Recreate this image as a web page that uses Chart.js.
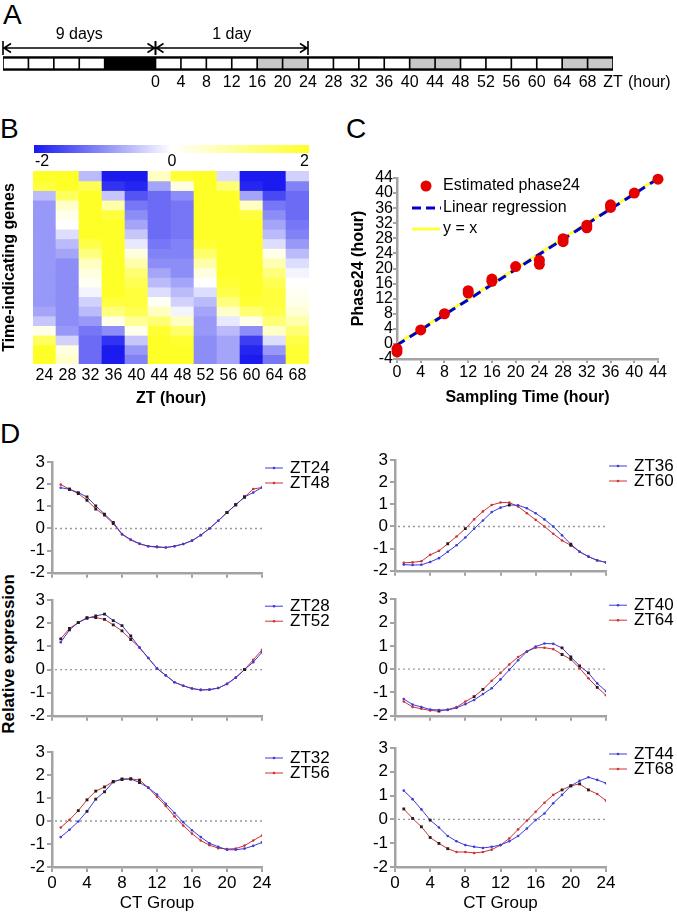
<!DOCTYPE html>
<html><head><meta charset="utf-8">
<script src="https://cdn.jsdelivr.net/npm/chart.js@4.4.1/dist/chart.umd.min.js"></script>
<style>
html,body{margin:0;padding:0;background:#fff}
body{width:677px;height:915px;position:relative;overflow:hidden;font-family:'Liberation Sans',Arial,Helvetica,sans-serif;color:#000}
canvas{position:absolute}
.lab{position:absolute;font-size:28px;line-height:28px;white-space:nowrap}
.rot{position:absolute;font-size:17px;font-weight:bold;line-height:20px;white-space:nowrap;transform:translate(-50%,-50%) rotate(-90deg)}
</style></head><body>
<div class="lab" style="left:3px;top:1px">A</div>
<div class="lab" style="left:0px;top:115px">B</div>
<div class="lab" style="left:346px;top:115px">C</div>
<div class="lab" style="left:0px;top:420px">D</div>
<div class="rot" style="left:9px;top:654px">Relative expression</div>
<canvas id="cA" width="677" height="100" style="left:0;top:0"></canvas>
<canvas id="cB" width="330" height="315" style="left:0;top:95px"></canvas>
<canvas id="cC" width="347" height="315" style="left:330px;top:95px"></canvas>
<canvas id="d1" width="340" height="145" style="left:0;top:440px"></canvas>
<canvas id="d2" width="340" height="140" style="left:0;top:588px"></canvas>
<canvas id="d3" width="340" height="180" style="left:0;top:735px"></canvas>
<canvas id="d4" width="337" height="143" style="left:340px;top:440px"></canvas>
<canvas id="d5" width="337" height="141" style="left:340px;top:587px"></canvas>
<canvas id="d6" width="337" height="180" style="left:340px;top:735px"></canvas>
<script>
// ---------- Panel A: light schedule ----------
const scheduleStart = [-24,-20,-16,-12,-8, 0,4,8,12,16,20,24,28,32,36,40,44,48,52,56,60,64,68];
const scheduleEnd   = [-20,-16,-12,-8,0, 4,8,12,16,20,24,28,32,36,40,44,48,52,56,60,64,68,72];
const scheduleState = ['L','L','L','L','D','L','L','L','L','G','G','L','L','L','L','G','G','L','L','L','L','G','G'];
const scheduleTicks = [0,4,8,12,16,20,24,28,32,36,40,44,48,52,56,60,64,68,72];
const arrowSpans = [[-24,0,'9 days'],[0,24,'1 day']];

// ---------- Panel B: heatmap (rows top -> bottom) ----------
const heatCols = ['24','28','32','36','40','44','48','52','56','60','64','68'];
const hZT24 = [2,1.8,-0.6,-0.9,-0.9,-0.9,-0.9,-0.9,-0.9,-0.9,-0.9,-0.9,-0.9,-0.9,-0.8,-0.5,0.2,1.5,2,2];
const hZT28 = [2,2,1.5,0.5,0.2,0,-0.3,-0.6,-0.8,-1,-1,-1,-1,-1,-1,-1,-0.9,-0.4,0.3,0.5];
const hZT32 = [-0.6,1.6,2,2,2,2,2,1.7,1.2,0.6,0.3,0.1,-0.1,-0.4,-0.6,-0.9,-1.2,-1.3,-1.3,-1.3];
const hZT36 = [-2,-1.8,-0.5,0.8,1.8,2,2,2,2,2,2,2,2,1.8,1.2,0.2,-1,-1.8,-2,-2];
const hZT40 = [-2,-1.9,-1.5,-1.2,-1,-0.8,-0.5,-0.2,0.3,0.8,1.3,1.6,1.8,1.8,1.6,1.0,0.2,-0.5,-0.9,-1.1];
const hZT44 = [0.6,-0.8,-1.3,-1.3,-1.3,-1.3,-1.3,-1.2,-1.1,-1.0,-0.8,-0.6,-0.3,0.1,0.6,1.3,1.9,2,2,2];
const hZT48 = [1.9,0.3,-1.0,-1.2,-1.2,-1.2,-1.2,-1.1,-1.1,-1.0,-1.0,-0.8,-0.6,-0.4,-0.1,0.6,1.4,1.9,2,2];
const hZT52 = [2,2,2,2,2,2,2,1.9,1.4,0.8,0.3,0,-0.3,-0.6,-0.8,-0.9,-0.9,-1.0,-1.0,-1.0];
const hZT56 = [-0.3,1.3,2,2,2,2,2,2,2,2,2,1.9,1.7,1.2,0.5,-0.2,-0.6,-0.8,-0.8,-0.8];
const hZT60 = [-2,-1.9,-0.8,0.6,1.8,2,2,2,2,2,2,2,2,1.9,1.3,0.2,-1.0,-1.7,-1.9,-2];
const hZT64 = [-2,-2,-1.6,-1.2,-1.0,-0.8,-0.6,-0.3,0.2,0.7,1.2,1.6,1.8,1.8,1.7,1.3,0.5,-0.3,-0.9,-1.2];
const hZT68 = [-0.4,-1.1,-1.3,-1.3,-1.3,-1.2,-1.1,-0.9,-0.6,-0.3,-0.1,0,0.1,0.2,0.4,0.8,1.3,1.7,1.9,1.9];
const heatValues = [hZT24,hZT28,hZT32,hZT36,hZT40,hZT44,hZT48,hZT52,hZT56,hZT60,hZT64,hZT68];
const colorbarTicks = [-2,0,2];

// ---------- Panel C ----------
const phaseX = [0,0,4,8,12,12,16,16,20,24,24,28,28,32,32,36,36,40,44];
const phaseY = [-1.3,-2.1,3.7,8,13.5,14.1,16.6,17.2,20.5,22.2,21.1,27.9,27.1,31.5,30.8,36.9,36.2,40,43.7];
const regX = [0,44];
const regY = [-0.3,43.8];
const identX = [0,44];
const identY = [0,44];

// ---------- Panel D ----------
const ctGroup = [1,2,3,4,5,6,7,8,9,10,11,12,13,14,15,16,17,18,19,20,21,22,23,24];
const zt24 = [1.84,1.77,1.62,1.42,1.02,0.65,0.27,-0.25,-0.5,-0.68,-0.8,-0.82,-0.86,-0.8,-0.7,-0.55,-0.3,0.0,0.35,0.72,1.07,1.42,1.62,1.85];
const zt48 = [1.98,1.77,1.58,1.27,0.88,0.6,0.22,-0.27,-0.52,-0.7,-0.8,-0.85,-0.86,-0.8,-0.7,-0.55,-0.3,0.0,0.35,0.72,1.07,1.42,1.78,1.85];
const zt28 = [1.18,1.72,2.03,2.22,2.32,2.4,2.12,1.9,1.45,0.95,0.5,0.05,-0.25,-0.55,-0.7,-0.82,-0.88,-0.87,-0.8,-0.62,-0.35,0.0,0.32,0.75];
const zt52 = [1.33,1.78,2.03,2.25,2.25,2.17,1.93,1.67,1.3,0.95,0.5,0.05,-0.25,-0.55,-0.7,-0.82,-0.88,-0.87,-0.8,-0.62,-0.35,0.0,0.42,0.85];
const zt32 = [-0.7,-0.38,-0.02,0.42,0.95,1.27,1.7,1.83,1.83,1.67,1.45,1.15,0.75,0.35,-0.05,-0.4,-0.7,-0.97,-1.12,-1.25,-1.25,-1.2,-1.08,-0.93];
const zt56 = [-0.28,0.05,0.45,0.92,1.3,1.48,1.72,1.8,1.83,1.78,1.45,1.05,0.65,0.2,-0.2,-0.55,-0.85,-1.05,-1.18,-1.22,-1.2,-1.07,-0.85,-0.63];
const zt36 = [-1.72,-1.74,-1.73,-1.6,-1.43,-1.14,-0.85,-0.5,-0.1,0.27,0.65,0.85,0.97,0.96,0.82,0.6,0.32,0.0,-0.4,-0.8,-1.14,-1.36,-1.53,-1.62];
const zt60 = [-1.64,-1.62,-1.57,-1.28,-1.1,-0.78,-0.45,-0.1,0.32,0.68,0.97,1.08,1.08,0.9,0.6,0.3,0.0,-0.33,-0.63,-0.85,-1.14,-1.36,-1.53,-1.62];
const zt40 = [-1.28,-1.52,-1.62,-1.73,-1.75,-1.75,-1.66,-1.5,-1.32,-1.07,-0.82,-0.44,-0.03,0.38,0.75,0.97,1.1,1.09,0.91,0.52,0.14,-0.16,-0.61,-0.94];
const zt64 = [-1.39,-1.62,-1.7,-1.77,-1.8,-1.73,-1.63,-1.39,-1.18,-0.87,-0.5,-0.16,0.2,0.52,0.76,0.92,0.92,0.86,0.63,0.42,0.04,-0.39,-0.78,-1.12];
const zt44 = [1.21,0.85,0.42,-0.03,-0.34,-0.7,-0.92,-1.08,-1.15,-1.2,-1.15,-1.08,-0.92,-0.7,-0.38,-0.03,0.25,0.68,1.03,1.41,1.62,1.77,1.66,1.52];
const zt68 = [0.44,0.04,-0.31,-0.76,-1.01,-1.23,-1.37,-1.37,-1.41,-1.37,-1.27,-1.08,-0.8,-0.42,-0.05,0.32,0.7,1.03,1.24,1.41,1.49,1.24,1.07,0.79];
// CT groups that carry visible (black) error bars
const errBlue24 = [2,3,4,5,6,7,20,21,22], errRed24 = [2,3,4,5,6,7,20,21,22];
const errBlue28 = [2,3,4,5,6,7,8,9,22], errRed28 = [1,2,3,4,5,6,7,8,9,22];
const errBlue32 = [4,5,6,7,8,9,10], errRed32 = [3,4,5,6,7,8,9,10];
const errBlue36 = [13,20], errRed36 = [6,8,20];
const errBlue40 = [19,20,21,22], errRed40 = [5,9,10,19,20,23];
const errBlue44 = [4,20], errRed44 = [1,2,3,4,5,6,19,20,21,22];

// ---------- setup ----------
const FONT = "'Liberation Sans', Arial, Helvetica, sans-serif";
Chart.defaults.font.family = FONT;
Chart.defaults.color = '#000';
Chart.defaults.animation = false;
Chart.defaults.responsive = false;
Chart.defaults.devicePixelRatio = 1;
Chart.defaults.plugins.legend.display = false;
Chart.defaults.plugins.tooltip.enabled = false;
const GRAY = '#a3a3a3';
const BLUE = '#3c3cd8';
const RED = '#cc3434';

// Panel A
const stateColor = {L:'#ffffff', G:'#c8c8c8', D:'#000000'};
const arrowPlugin = {id:'arrows', afterDraw(chart){
  const x = chart.scales.x, ctx = chart.ctx, y = 48;
  ctx.save();
  ctx.strokeStyle = '#000'; ctx.fillStyle = '#000'; ctx.lineWidth = 1.6;
  arrowSpans.forEach(([a,b,label]) => {
    const xa = x.getPixelForValue(a), xb = x.getPixelForValue(b);
    ctx.beginPath();
    ctx.moveTo(xa, y); ctx.lineTo(xb, y);
    ctx.moveTo(xa, y-7); ctx.lineTo(xa, y+7);
    ctx.moveTo(xb, y-7); ctx.lineTo(xb, y+7);
    ctx.moveTo(xa+8, y-4.5); ctx.lineTo(xa+1, y); ctx.lineTo(xa+8, y+4.5);
    ctx.moveTo(xb-8, y-4.5); ctx.lineTo(xb-1, y); ctx.lineTo(xb-8, y+4.5);
    ctx.stroke();
    ctx.font = '16px ' + FONT; ctx.textAlign = 'center'; ctx.textBaseline = 'middle';
    ctx.fillText(label, (xa+xb)/2, 35);
  });
  ctx.font = '16px ' + FONT; ctx.textAlign = 'left'; ctx.textBaseline = 'middle';
  ctx.fillText('(hour)', x.getPixelForValue(72) + 15, 82.5);
  ctx.restore();
}};
new Chart(document.getElementById('cA'), {
  type:'bar',
  data:{labels:['schedule'], datasets:[
    {data:[[-24,72]], backgroundColor:'#000', barThickness:14, grouped:false, order:2},
    ...scheduleStart.map((s,i)=>({data:[[s+0.18, scheduleEnd[i]-0.18]], backgroundColor:stateColor[scheduleState[i]], barThickness:9, grouped:false, order:1}))
  ]},
  options:{indexAxis:'y', layout:{padding:{left:3,right:64,top:56,bottom:0}},
    scales:{
      x:{type:'linear', min:-24, max:72,
        afterBuildTicks:s=>{s.ticks = scheduleTicks.map(v=>({value:v}));},
        ticks:{autoSkip:false, maxRotation:0, padding:2, font:{size:16}, callback:v=> v===72 ? 'ZT' : String(v)},
        grid:{display:false, drawTicks:false, tickLength:0}, border:{display:false}, afterFit:s=>{s.height=29;}},
      y:{display:false}
    }},
  plugins:[arrowPlugin]
});

// Panel B
function heatColor(v){
  const t = Math.max(-1, Math.min(1, v/2));
  if (t < 0){ const a = -t; const c = Math.round(255 - a*228); return `rgb(${c},${c},${Math.round(255 - a*15)})`; }
  return `rgb(255,255,${Math.round(255 - t*215)})`;
}
const nRows = hZT24.length;
const heatDatasets = [];
for (let r = 0; r < nRows; r++){
  heatDatasets.push({data: heatCols.map(()=>[r-0.03, r+1.03]), backgroundColor: heatValues.map(c=>heatColor(c[r])),
    grouped:false, barPercentage:1, categoryPercentage:1, borderWidth:0});
}
const colorbarPlugin = {id:'colorbar', afterDraw(chart){
  const ctx = chart.ctx, {left,right} = chart.chartArea;
  ctx.save();
  const g = ctx.createLinearGradient(left+1, 0, right, 0);
  g.addColorStop(0, 'rgb(25,25,240)'); g.addColorStop(0.5, '#ffffff'); g.addColorStop(1, 'rgb(255,255,40)');
  ctx.fillStyle = g; ctx.fillRect(left+1, 50, right-left-1, 8);
  ctx.fillStyle = '#000'; ctx.font = '16px ' + FONT; ctx.textBaseline = 'middle';
  colorbarTicks.forEach(v=>{
    const f = (v - colorbarTicks[0])/(colorbarTicks[2]-colorbarTicks[0]);
    ctx.textAlign = f===0 ? 'left' : (f===1 ? 'right' : 'center');
    ctx.fillText(String(v), left + 2 + f*(right-left-2), 67);
  });
  ctx.restore();
}};
new Chart(document.getElementById('cB'), {
  type:'bar', data:{labels:heatCols, datasets:heatDatasets},
  options:{layout:{padding:{left:0,right:21,top:76,bottom:0}},
    scales:{
      x:{ticks:{autoSkip:false, maxRotation:0, padding:2, font:{size:16}}, grid:{display:false, drawTicks:false, tickLength:0}, border:{display:false},
         title:{display:true, text:'ZT (hour)', font:{size:16, weight:'bold'}, padding:{top:0,bottom:2}}, afterFit:s=>{s.height=46;}},
      y:{min:0, max:nRows, reverse:true, ticks:{display:false}, grid:{display:false, drawTicks:false}, border:{display:false},
         title:{display:true, text:'Time-indicating genes', font:{size:16, weight:'bold'}, padding:{top:0,bottom:0}}, afterFit:s=>{s.width=33;}}
    }},
  plugins:[colorbarPlugin]
});

// Panel C
const legendC = {id:'legendC', afterDraw(chart){
  const ctx = chart.ctx;
  ctx.save();
  ctx.font = '16px ' + FONT; ctx.textAlign = 'left'; ctx.textBaseline = 'middle';
  ctx.fillStyle = '#e50000'; ctx.beginPath(); ctx.arc(96, 91, 5.5, 0, Math.PI*2); ctx.fill();
  ctx.lineWidth = 3;
  ctx.strokeStyle = '#0000cc'; ctx.setLineDash([9,5]); ctx.beginPath(); ctx.moveTo(82,113); ctx.lineTo(111,113); ctx.stroke();
  ctx.setLineDash([]); ctx.strokeStyle = '#ffff3c'; ctx.beginPath(); ctx.moveTo(82,134); ctx.lineTo(110,134); ctx.stroke();
  ctx.fillStyle = '#000';
  ctx.fillText('Estimated phase24', 113, 91);
  ctx.fillText('Linear regression', 113, 113);
  ctx.fillText('y = x', 113, 134);
  ctx.restore();
}};
const axisC = {grid:{drawOnChartArea:false, tickLength:4, color:GRAY, lineWidth:2}, border:{color:GRAY, width:2.5}};
new Chart(document.getElementById('cC'), {
  type:'scatter',
  data:{datasets:[
    {data: phaseX.map((x,i)=>({x, y:phaseY[i]})), pointRadius:5.5, backgroundColor:'#e50000', borderWidth:0, clip:false},
    {data: regX.map((x,i)=>({x, y:regY[i]})), showLine:true, borderColor:'#0000cc', borderWidth:3, borderDash:[9,6], pointRadius:0},
    {data: identX.map((x,i)=>({x, y:identY[i]})), showLine:true, borderColor:'#ffff3c', borderWidth:3, pointRadius:0}
  ]},
  options:{layout:{padding:{left:0,right:19,top:83,bottom:0}},
    scales:{
      x:{type:'linear', min:0, max:44, ticks:{stepSize:4, autoSkip:false, maxRotation:0, padding:0, font:{size:16}}, ...axisC,
         title:{display:true, text:'Sampling Time (hour)', font:{size:16, weight:'bold'}, padding:{top:0,bottom:2.4}}, afterFit:s=>{s.height=51;}},
      y:{min:-4, max:44, ticks:{stepSize:4, autoSkip:false, padding:0, font:{size:16}}, ...axisC,
         title:{display:true, text:'Phase24 (hour)', font:{size:16, weight:'bold'}, padding:{top:19,bottom:0}}, afterFit:s=>{s.width=67;}}
    }},
  plugins:[legendC]
});

// Panel D
const zeroLine = {id:'zeroLine', beforeDatasetsDraw(chart){
  const ctx = chart.ctx, x = chart.scales.x, y = chart.scales.y;
  const py = y.getPixelForValue(0);
  ctx.save(); ctx.strokeStyle = '#999'; ctx.lineWidth = 1.3; ctx.setLineDash([2,3]);
  ctx.beginPath(); ctx.moveTo(x.getPixelForValue(0)+3, py); ctx.lineTo(x.getPixelForValue(24), py); ctx.stroke();
  ctx.restore();
}};
const dLegend = {id:'dLegend', afterDraw(chart){
  const ctx = chart.ctx, {top, right} = chart.chartArea;
  ctx.save();
  ctx.font = '17px ' + FONT; ctx.textAlign = 'left'; ctx.textBaseline = 'middle';
  chart.data.datasets.forEach((ds,i)=>{
    const y = top + 6 + i*15;
    ctx.strokeStyle = ds.borderColor; ctx.lineWidth = 1;
    ctx.beginPath(); ctx.moveTo(right+3, y); ctx.lineTo(right+21, y); ctx.stroke();
    ctx.fillStyle = ds.borderColor; ctx.beginPath(); ctx.arc(right+12, y, 1.3, 0, Math.PI*2); ctx.fill();
    ctx.fillStyle = '#000'; ctx.fillText(ds.label, right+28, y);
  });
  ctx.restore();
}};
function seriesDataset(label, values, color, errGroups){
  const isErr = c => errGroups.includes(ctGroup[c.dataIndex]);
  return {label, data: ctGroup.map((x,i)=>({x, y:values[i]})), showLine:true, borderColor:color, backgroundColor:color,
    borderWidth:1, pointBorderWidth:0, tension:0,
    pointRadius: c => isErr(c) ? 2 : 1.3,
    pointStyle: c => isErr(c) ? 'rect' : 'circle',
    pointBackgroundColor: c => isErr(c) ? '#2a1a1a' : color};
}
function dChart(id, names, blue, red, errB, errR, cfg){
  new Chart(document.getElementById(id), {
    type:'scatter',
    data:{datasets:[ seriesDataset(names[0], blue, BLUE, errB), seriesDataset(names[1], red, RED, errR) ]},
    options:{layout:{padding:{left:0,right:cfg.padRight,top:cfg.padTop,bottom:0}},
      scales:{
        x:{type:'linear', min:0, max:24, ticks:{stepSize:4, display:cfg.showX, autoSkip:false, maxRotation:0, padding:1, font:{size:17}},
           grid:{drawOnChartArea:false, tickLength:5, color:GRAY, lineWidth:2}, border:{color:GRAY, width:2.5},
           title:{display:cfg.showX, text:'CT Group', font:{size:17}, padding:{top:0,bottom:1.5}}, afterFit:s=>{s.height=cfg.xHeight;}},
        y:{min:-2, max:3, ticks:{stepSize:1, autoSkip:false, padding:2, font:{size:17}},
           grid:{drawOnChartArea:false, tickLength:5, color:GRAY, lineWidth:2}, border:{color:GRAY, width:2.5},
           afterFit:s=>{s.width=cfg.yWidth;}}
      }},
    plugins:[zeroLine, dLegend]
  });
}
dChart('d1', ['ZT24','ZT48'], zt24, zt48, errBlue24, errRed24, {padTop:22, padRight:78, yWidth:52, xHeight:8, showX:false});
dChart('d2', ['ZT28','ZT52'], zt28, zt52, errBlue28, errRed28, {padTop:10, padRight:78, yWidth:52, xHeight:8, showX:false});
dChart('d3', ['ZT32','ZT56'], zt32, zt56, errBlue32, errRed32, {padTop:17, padRight:78, yWidth:52, xHeight:48, showX:true});
dChart('d4', ['ZT36','ZT60'], zt36, zt60, errBlue36, errRed36, {padTop:20, padRight:71, yWidth:55, xHeight:8, showX:false});
dChart('d5', ['ZT40','ZT64'], zt40, zt64, errBlue40, errRed40, {padTop:10, padRight:71, yWidth:55, xHeight:8, showX:false});
dChart('d6', ['ZT44','ZT68'], zt44, zt68, errBlue44, errRed44, {padTop:13, padRight:71, yWidth:55, xHeight:48, showX:true});
</script>
</body></html>
